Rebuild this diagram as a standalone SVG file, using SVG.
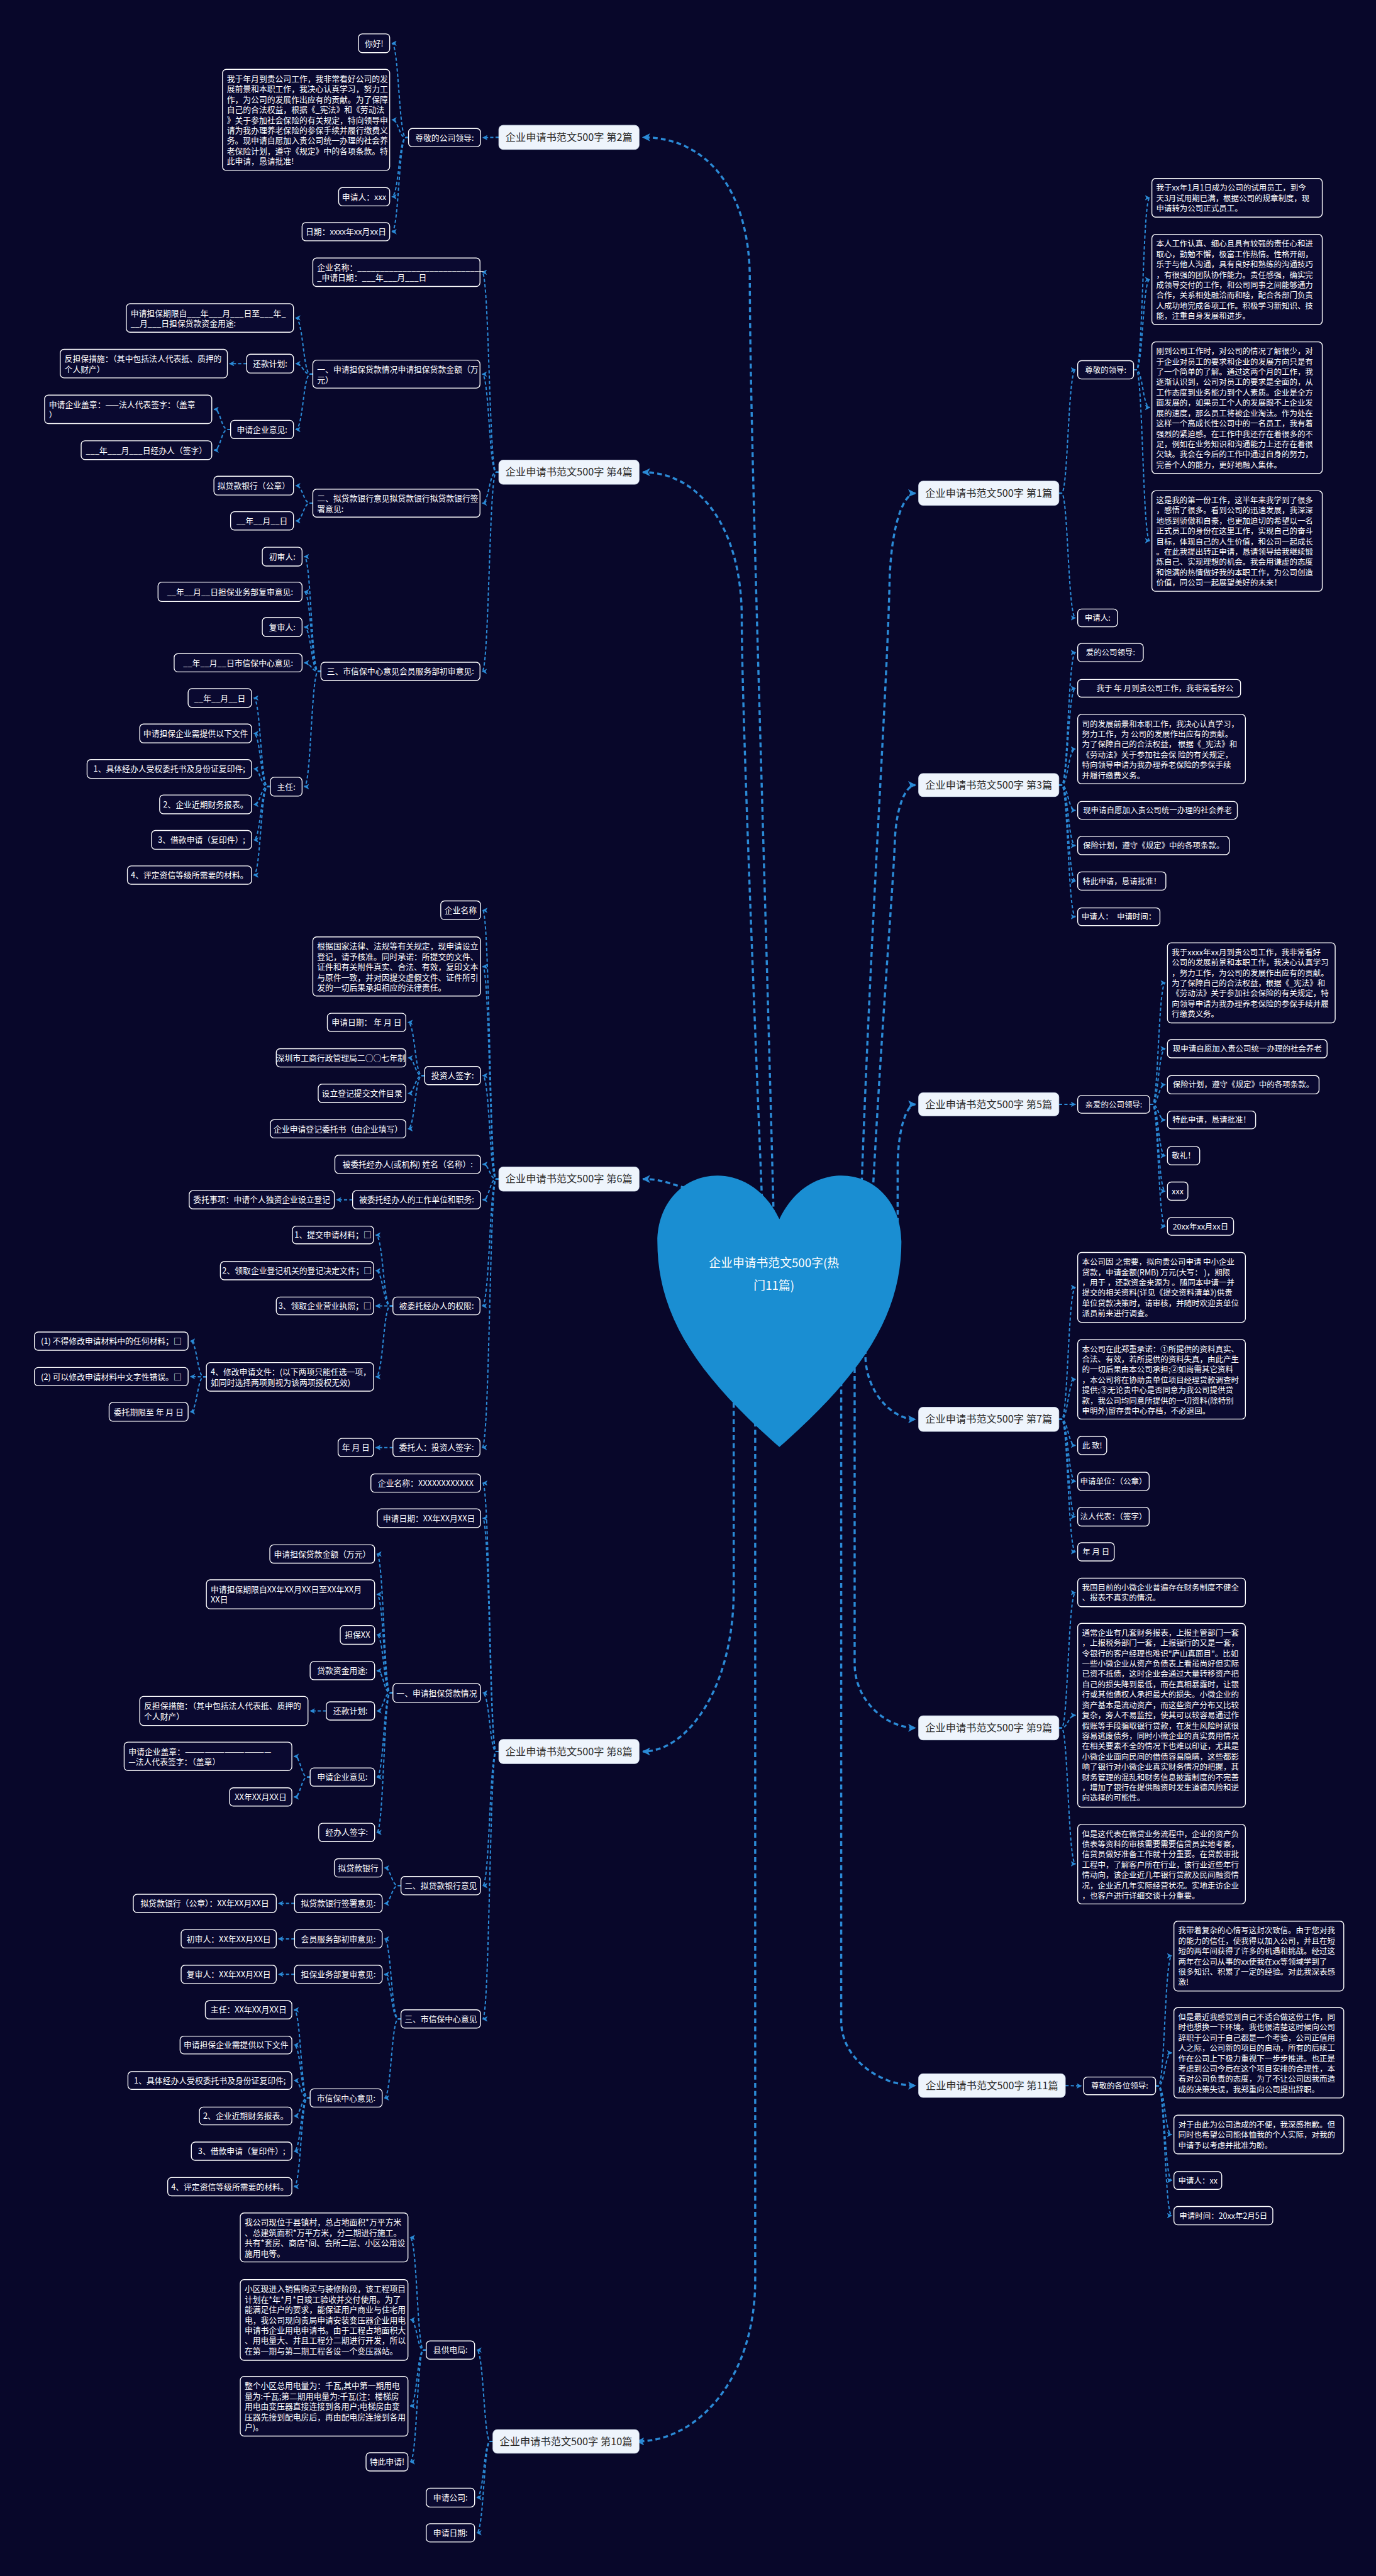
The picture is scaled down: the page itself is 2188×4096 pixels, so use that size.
<svg xmlns="http://www.w3.org/2000/svg" width="2188" height="4096" viewBox="0 0 2188 4096">
<defs>
<style>
.n{fill:#0a0930;stroke:#ffffff;stroke-width:1.6}
.b{fill:#eef4fc;stroke:#dbe6f4;stroke-width:1}
.t{font-family:"Noto Sans CJK SC","Noto Sans",sans-serif;font-size:15px;fill:#ffffff}
.r{font-family:"Noto Sans CJK SC","Noto Sans",sans-serif;font-size:14.6px;fill:#ffffff}
.m{text-anchor:middle}
.bt{font-family:"Noto Sans CJK SC","Noto Sans",sans-serif;font-size:19px;fill:#2b2b2b;text-anchor:middle}
.ht{font-family:"Noto Sans CJK SC","Noto Sans",sans-serif;font-size:22px;fill:#ffffff;text-anchor:middle}
.c{fill:none;stroke:#2b8ad6;stroke-width:2.4;stroke-dasharray:6 4;marker-end:url(#a)}
.k{fill:none;stroke:#2b8ad6;stroke-width:4;stroke-dasharray:9 6;marker-end:url(#am)}
</style>
<marker id="a" viewBox="0 0 10 10" refX="9" refY="5" markerWidth="10" markerHeight="10" markerUnits="userSpaceOnUse" orient="auto"><path d="M0,0L10,5L0,10L2.5,5z" fill="#2b8ad6"/></marker>
<marker id="am" viewBox="0 0 10 10" refX="9" refY="5" markerWidth="15" markerHeight="15" markerUnits="userSpaceOnUse" orient="auto"><path d="M0,0L10,5L0,10L2.5,5z" fill="#2b8ad6"/></marker>
</defs>
<rect x="0" y="0" width="2188" height="4096" fill="#08072a"/>
<g transform="scale(0.8547)">
<g id="connectors">
<!-- main -->
<path class="k" d="M1440,2290C1420,1500 1395,800 1395,520C1395,360 1320,255.5 1196,255.5"/>
<path class="k" d="M1420,2290C1400,1800 1380,1300 1380,1150C1380,980 1300,878.5 1196,878.5"/>
<path class="k" d="M1320,2215C1260,2215 1250,2193.5 1196,2193.5"/>
<path class="k" d="M1365,2520V2958.5C1365,3138.5 1280,3258.5 1196,3258.5"/>
<path class="k" d="M1405,2600V4242C1405,4422 1300,4542 1185,4542"/>
<path class="k" d="M1600,2290C1620,1700 1650,1300 1655,1080C1658,980 1680,917.5 1703,917.5"/>
<path class="k" d="M1620,2290C1640,1900 1662,1650 1665,1560C1668,1500 1685,1460.5 1703,1460.5"/>
<path class="k" d="M1670,2320V2174C1670,2102 1686,2054.5 1703,2054.5"/>
<path class="k" d="M1610,2450V2520C1610,2590 1660,2640.5 1703,2640.5"/>
<path class="k" d="M1590,2500V3094.5C1590,3166 1650,3214.5 1703,3214.5"/>
<path class="k" d="M1565,2540V3760C1565,3832 1640,3880 1703,3880"/>
<!-- 2 -->
<path class="c" d="M928,255.5H923C911,255.5 911,256 898,256"/>
<path class="c" d="M760,256H755C742,256 742,80.5 729,80.5"/>
<path class="c" d="M760,256H755C742,256 742,223 729,223"/>
<path class="c" d="M760,256H755C742,256 742,366 729,366"/>
<path class="c" d="M760,256H755C742,256 742,431 729,431"/>
<!-- 4 -->
<path class="c" d="M928,878.5H923C910,878.5 910,506.5 897,506.5"/>
<path class="c" d="M928,878.5H923C910,878.5 910,696 897,696"/>
<path class="c" d="M928,878.5H923C910,878.5 910,936 897,936"/>
<path class="c" d="M928,878.5H923C910,878.5 910,1249 897,1249"/>
<path class="c" d="M582,696H577C564,696 564,591.5 550,591.5"/>
<path class="c" d="M582,696H577C564,696 564,676.5 550,676.5"/>
<path class="c" d="M582,696H577C564,696 564,799 550,799"/>
<path class="c" d="M459,676.5H454C441,676.5 441,676.5 427,676.5"/>
<path class="c" d="M429,799H424C411,799 411,761.5 398,761.5"/>
<path class="c" d="M429,799H424C411,799 411,837.5 398,837.5"/>
<path class="c" d="M582,936H577C564,936 564,903.5 550,903.5"/>
<path class="c" d="M582,936H577C564,936 564,969 550,969"/>
<path class="c" d="M597,1249H592C579,1249 579,1035.5 566,1035.5"/>
<path class="c" d="M597,1249H592C579,1249 579,1101 566,1101"/>
<path class="c" d="M597,1249H592C579,1249 579,1166.5 566,1166.5"/>
<path class="c" d="M597,1249H592C579,1249 579,1233 566,1233"/>
<path class="c" d="M597,1249H592C579,1249 579,1463.5 566,1463.5"/>
<path class="c" d="M503,1463.5H498C485,1463.5 485,1298.5 472,1298.5"/>
<path class="c" d="M503,1463.5H498C485,1463.5 485,1364.5 472,1364.5"/>
<path class="c" d="M503,1463.5H498C485,1463.5 485,1430.5 472,1430.5"/>
<path class="c" d="M503,1463.5H498C485,1463.5 485,1496.5 472,1496.5"/>
<path class="c" d="M503,1463.5H498C485,1463.5 485,1562.5 472,1562.5"/>
<path class="c" d="M503,1463.5H498C485,1463.5 485,1628 472,1628"/>
<!-- 6 -->
<path class="c" d="M928,2193.5H923C911,2193.5 911,1693.5 898,1693.5"/>
<path class="c" d="M928,2193.5H923C911,2193.5 911,1798 898,1798"/>
<path class="c" d="M928,2193.5H923C911,2193.5 911,2001 898,2001"/>
<path class="c" d="M928,2193.5H923C911,2193.5 911,2166 898,2166"/>
<path class="c" d="M928,2193.5H923C911,2193.5 911,2232 898,2232"/>
<path class="c" d="M928,2193.5H923C911,2193.5 911,2429.5 897,2429.5"/>
<path class="c" d="M928,2193.5H923C911,2193.5 911,2693 897,2693"/>
<path class="c" d="M790,2001H785C772,2001 772,1902 759,1902"/>
<path class="c" d="M790,2001H785C772,2001 772,1968 759,1968"/>
<path class="c" d="M790,2001H785C772,2001 772,2034 759,2034"/>
<path class="c" d="M790,2001H785C772,2001 772,2100 759,2100"/>
<path class="c" d="M656,2232H651C639,2232 639,2232 626,2232"/>
<path class="c" d="M731,2429.5H726C713,2429.5 713,2297.5 699,2297.5"/>
<path class="c" d="M731,2429.5H726C713,2429.5 713,2364 699,2364"/>
<path class="c" d="M731,2429.5H726C713,2429.5 713,2429.5 699,2429.5"/>
<path class="c" d="M731,2429.5H726C713,2429.5 713,2561.5 699,2561.5"/>
<path class="c" d="M384,2561.5H379C367,2561.5 367,2495 354,2495"/>
<path class="c" d="M384,2561.5H379C367,2561.5 367,2561 354,2561"/>
<path class="c" d="M384,2561.5H379C367,2561.5 367,2626.5 354,2626.5"/>
<path class="c" d="M731,2693H726C713,2693 713,2693 699,2693"/>
<!-- 8 -->
<path class="c" d="M928,3258.5H923C911,3258.5 911,2759 898,2759"/>
<path class="c" d="M928,3258.5H923C911,3258.5 911,2824.5 898,2824.5"/>
<path class="c" d="M928,3258.5H923C911,3258.5 911,3149.5 898,3149.5"/>
<path class="c" d="M928,3258.5H923C911,3258.5 911,3508 898,3508"/>
<path class="c" d="M928,3258.5H923C911,3258.5 911,3756 898,3756"/>
<path class="c" d="M731,3149.5H726C714,3149.5 714,2891 701,2891"/>
<path class="c" d="M731,3149.5H726C714,3149.5 714,2966 701,2966"/>
<path class="c" d="M731,3149.5H726C714,3149.5 714,3041.5 701,3041.5"/>
<path class="c" d="M731,3149.5H726C714,3149.5 714,3108 701,3108"/>
<path class="c" d="M731,3149.5H726C714,3149.5 714,3183 701,3183"/>
<path class="c" d="M731,3149.5H726C714,3149.5 714,3306 701,3306"/>
<path class="c" d="M731,3149.5H726C714,3149.5 714,3409 701,3409"/>
<path class="c" d="M607,3183H602C590,3183 590,3183 577,3183"/>
<path class="c" d="M577,3306H572C560,3306 560,3267.5 547,3267.5"/>
<path class="c" d="M577,3306H572C560,3306 560,3343 547,3343"/>
<path class="c" d="M746,3508H741C728,3508 728,3475 715,3475"/>
<path class="c" d="M746,3508H741C728,3508 728,3541 715,3541"/>
<path class="c" d="M548,3541H543C531,3541 531,3541 518,3541"/>
<path class="c" d="M746,3756H741C728,3756 728,3607 715,3607"/>
<path class="c" d="M746,3756H741C728,3756 728,3673 715,3673"/>
<path class="c" d="M746,3756H741C728,3756 728,3903 715,3903"/>
<path class="c" d="M548,3607H543C531,3607 531,3607 518,3607"/>
<path class="c" d="M548,3673H543C531,3673 531,3673 518,3673"/>
<path class="c" d="M577,3903H572C560,3903 560,3739 547,3739"/>
<path class="c" d="M577,3903H572C560,3903 560,3804.5 547,3804.5"/>
<path class="c" d="M577,3903H572C560,3903 560,3870.5 547,3870.5"/>
<path class="c" d="M577,3903H572C560,3903 560,3936.5 547,3936.5"/>
<path class="c" d="M577,3903H572C560,3903 560,4002 547,4002"/>
<path class="c" d="M577,3903H572C560,3903 560,4068 547,4068"/>
<!-- 10 -->
<path class="c" d="M917,4542H912C900,4542 900,4372 887,4372"/>
<path class="c" d="M917,4542H912C900,4542 900,4646.5 887,4646.5"/>
<path class="c" d="M917,4542H912C900,4542 900,4712 887,4712"/>
<path class="c" d="M793,4372H788C776,4372 776,4162.5 763,4162.5"/>
<path class="c" d="M793,4372H788C776,4372 776,4315.5 763,4315.5"/>
<path class="c" d="M793,4372H788C776,4372 776,4476 763,4476"/>
<path class="c" d="M793,4372H788C776,4372 776,4580 763,4580"/>
<!-- 1 -->
<path class="c" d="M1970,917.5H1975C1987,917.5 1987,688 2001,688"/>
<path class="c" d="M1970,917.5H1975C1987,917.5 1987,1149.5 2001,1149.5"/>
<path class="c" d="M2109,688H2114C2126,688 2126,368 2139,368"/>
<path class="c" d="M2109,688H2114C2126,688 2126,520 2139,520"/>
<path class="c" d="M2109,688H2114C2126,688 2126,758 2139,758"/>
<path class="c" d="M2109,688H2114C2126,688 2126,1006 2139,1006"/>
<!-- 3 -->
<path class="c" d="M1970,1460.5H1975C1987,1460.5 1987,1214 2001,1214"/>
<path class="c" d="M1970,1460.5H1975C1987,1460.5 1987,1280.5 2001,1280.5"/>
<path class="c" d="M1970,1460.5H1975C1987,1460.5 1987,1393.5 2001,1393.5"/>
<path class="c" d="M1970,1460.5H1975C1987,1460.5 1987,1507.5 2001,1507.5"/>
<path class="c" d="M1970,1460.5H1975C1987,1460.5 1987,1573 2001,1573"/>
<path class="c" d="M1970,1460.5H1975C1987,1460.5 1987,1639 2001,1639"/>
<path class="c" d="M1970,1460.5H1975C1987,1460.5 1987,1705.5 2001,1705.5"/>
<!-- 5 -->
<path class="c" d="M1970,2054.5H1975C1987,2054.5 1987,2054.5 2001,2054.5"/>
<path class="c" d="M2139,2054.5H2144C2155,2054.5 2155,1828.5 2168,1828.5"/>
<path class="c" d="M2139,2054.5H2144C2155,2054.5 2155,1951 2168,1951"/>
<path class="c" d="M2139,2054.5H2144C2155,2054.5 2155,2018 2168,2018"/>
<path class="c" d="M2139,2054.5H2144C2155,2054.5 2155,2083.5 2168,2083.5"/>
<path class="c" d="M2139,2054.5H2144C2155,2054.5 2155,2150 2168,2150"/>
<path class="c" d="M2139,2054.5H2144C2155,2054.5 2155,2216 2168,2216"/>
<path class="c" d="M2139,2054.5H2144C2155,2054.5 2155,2281.5 2168,2281.5"/>
<!-- 7 -->
<path class="c" d="M1970,2640.5H1975C1987,2640.5 1987,2395 2001,2395"/>
<path class="c" d="M1970,2640.5H1975C1987,2640.5 1987,2566 2001,2566"/>
<path class="c" d="M1970,2640.5H1975C1987,2640.5 1987,2689 2001,2689"/>
<path class="c" d="M1970,2640.5H1975C1987,2640.5 1987,2756 2001,2756"/>
<path class="c" d="M1970,2640.5H1975C1987,2640.5 1987,2821.5 2001,2821.5"/>
<path class="c" d="M1970,2640.5H1975C1987,2640.5 1987,2887 2001,2887"/>
<!-- 9 -->
<path class="c" d="M1970,3214.5H1975C1987,3214.5 1987,2963 2001,2963"/>
<path class="c" d="M1970,3214.5H1975C1987,3214.5 1987,3191 2001,3191"/>
<path class="c" d="M1970,3214.5H1975C1987,3214.5 1987,3467.5 2001,3467.5"/>
<!-- 11 -->
<path class="c" d="M1982,3880H1987C1999,3880 1999,3880.5 2012,3880.5"/>
<path class="c" d="M2150,3880.5H2155C2167,3880.5 2167,3638.5 2180,3638.5"/>
<path class="c" d="M2150,3880.5H2155C2167,3880.5 2167,3819 2180,3819"/>
<path class="c" d="M2150,3880.5H2155C2167,3880.5 2167,3971 2180,3971"/>
<path class="c" d="M2150,3880.5H2155C2167,3880.5 2167,4056.5 2180,4056.5"/>
<path class="c" d="M2150,3880.5H2155C2167,3880.5 2167,4122 2180,4122"/>
</g>

<g id="root">
<path d="M1450,2268C1420,2205 1370,2187 1335,2187C1270,2187 1223,2240 1223,2310C1223,2450 1300,2560 1450,2692C1600,2560 1677,2450 1677,2310C1677,2240 1630,2187 1565,2187C1530,2187 1480,2205 1450,2268Z" fill="#1a8ed2"/>
<text class="ht" x="1440" y="2357">企业申请书范文500字(热</text>
<text class="ht" x="1440" y="2400">门11篇)</text>
</g>

<!-- ========== 第2篇 ========== -->
<g id="b2"><rect class="b" x="928" y="233" width="261" height="45" rx="8"/><text class="bt" x="1058.5" y="262.5">企业申请书范文500字 第2篇</text></g>
<g id="n2a"><rect class="n" x="760" y="239" width="134" height="34" rx="7"/><text class="t m" x="827" y="261.5">尊敬的公司领导:</text></g>
<g id="n2a1"><rect class="n" x="667" y="63" width="58" height="35" rx="7"/><text class="t m" x="696" y="86">你好!</text></g>
<g id="n2a2"><rect class="n" x="414" y="129" width="311" height="188" rx="7"/><text class="t" x="422" y="152"><tspan x="422">我于年月到贵公司工作，我非常看好公司的发</tspan><tspan x="422" dy="19.2">展前景和本职工作，我决心认真学习，努力工</tspan><tspan x="422" dy="19.2">作，为公司的发展作出应有的贡献。为了保障</tspan><tspan x="422" dy="19.2">自己的合法权益，根据《_宪法》和《劳动法</tspan><tspan x="422" dy="19.2">》关于参加社会保险的有关规定，特向领导申</tspan><tspan x="422" dy="19.2">请为我办理养老保险的参保手续并履行缴费义</tspan><tspan x="422" dy="19.2">务。现申请自愿加入贵公司统一办理的社会养</tspan><tspan x="422" dy="19.2">老保险计划，遵守《规定》中的各项条款。特</tspan><tspan x="422" dy="19.2">此申请，恳请批准!</tspan></text></g>
<g id="n2a3"><rect class="n" x="630" y="349" width="95" height="34" rx="7"/><text class="t m" x="677.5" y="371.5">申请人：xxx</text></g>
<g id="n2a4"><rect class="n" x="562" y="414" width="163" height="34" rx="7"/><text class="t m" x="643.5" y="436.5">日期：xxxx年xx月xx日</text></g>

<!-- ========== 第4篇 ========== -->
<g id="b4"><rect class="b" x="928" y="856" width="261" height="45" rx="8"/><text class="bt" x="1058.5" y="885">企业申请书范文500字 第4篇</text></g>
<g id="n4a"><rect class="n" x="582" y="480" width="311" height="53" rx="7"/><text class="t" x="590" y="503"><tspan x="590">企业名称：____________________________</tspan><tspan x="590" dy="19.2">_申请日期：___年___月___日</tspan></text></g>
<g id="n4b"><rect class="n" x="582" y="670" width="311" height="52" rx="7"/><text class="t" x="590" y="693"><tspan x="590">一、申请担保贷款情况申请担保贷款金额（万</tspan><tspan x="590" dy="19.2">元）</tspan></text></g>
<g id="n4b1"><rect class="n" x="235" y="565" width="311" height="53" rx="7"/><text class="t" x="243" y="588"><tspan x="243">申请担保期限自___年___月___日至___年_</tspan><tspan x="243" dy="19.2">__月___日担保贷款资金用途:</tspan></text></g>
<g id="n4b2"><rect class="n" x="459" y="659" width="87" height="35" rx="7"/><text class="t m" x="502.5" y="682">还款计划:</text></g>
<g id="n4b2a"><rect class="n" x="112" y="650" width="311" height="53" rx="7"/><text class="t" x="120" y="673"><tspan x="120">反担保措施：（其中包括法人代表抵、质押的</tspan><tspan x="120" dy="19.2">个人财产）</tspan></text></g>
<g id="n4b3"><rect class="n" x="429" y="782" width="117" height="34" rx="7"/><text class="t m" x="487.5" y="804.5">申请企业意见:</text></g>
<g id="n4b3a"><rect class="n" x="83" y="735" width="311" height="53" rx="7"/><text class="t" x="91" y="758"><tspan x="91">申请企业盖章：——法人代表签字：（盖章</tspan><tspan x="91" dy="19.2">）</tspan></text></g>
<g id="n4b3b"><rect class="n" x="151" y="820" width="243" height="35" rx="7"/><text class="t m" x="272.5" y="843">___年___月___日经办人（签字）</text></g>
<g id="n4c"><rect class="n" x="582" y="910" width="311" height="52" rx="7"/><text class="t" x="590" y="933"><tspan x="590">二、拟贷款银行意见拟贷款银行拟贷款银行签</tspan><tspan x="590" dy="19.2">署意见:</tspan></text></g>
<g id="n4c1"><rect class="n" x="398" y="886" width="148" height="35" rx="7"/><text class="t m" x="472" y="909">拟贷款银行（公章）</text></g>
<g id="n4c2"><rect class="n" x="429" y="952" width="117" height="34" rx="7"/><text class="t m" x="487.5" y="974.5">__年__月__日</text></g>
<g id="n4d"><rect class="n" x="597" y="1232" width="296" height="34" rx="7"/><text class="t m" x="745" y="1254.5">三、市信保中心意见会员服务部初审意见:</text></g>
<g id="n4d1"><rect class="n" x="488" y="1018" width="74" height="35" rx="7"/><text class="t m" x="525" y="1041">初审人:</text></g>
<g id="n4d2"><rect class="n" x="294" y="1083" width="268" height="36" rx="7"/><text class="t m" x="428" y="1106.5">__年__月__日担保业务部复审意见:</text></g>
<g id="n4d3"><rect class="n" x="488" y="1149" width="74" height="35" rx="7"/><text class="t m" x="525" y="1172">复审人:</text></g>
<g id="n4d4"><rect class="n" x="324" y="1216" width="238" height="34" rx="7"/><text class="t m" x="443" y="1238.5">__年__月__日市信保中心意见:</text></g>
<g id="n4d5"><rect class="n" x="503" y="1446" width="59" height="35" rx="7"/><text class="t m" x="532.5" y="1469">主任:</text></g>
<g id="n4d5a"><rect class="n" x="350" y="1281" width="118" height="35" rx="7"/><text class="t m" x="409" y="1304">__年__月__日</text></g>
<g id="n4d5b"><rect class="n" x="260" y="1347" width="208" height="35" rx="7"/><text class="t m" x="364" y="1370">申请担保企业需提供以下文件</text></g>
<g id="n4d5c"><rect class="n" x="162" y="1413" width="306" height="35" rx="7"/><text class="t m" x="315" y="1436">1、具体经办人受权委托书及身份证复印件;</text></g>
<g id="n4d5d"><rect class="n" x="297" y="1479" width="171" height="35" rx="7"/><text class="t m" x="382.5" y="1502">2、企业近期财务报表。</text></g>
<g id="n4d5e"><rect class="n" x="282" y="1545" width="186" height="35" rx="7"/><text class="t m" x="375" y="1568">3、借款申请（复印件）;</text></g>
<g id="n4d5f"><rect class="n" x="237" y="1611" width="231" height="34" rx="7"/><text class="t m" x="352.5" y="1633.5">4、评定资信等级所需要的材料。</text></g>

<!-- ========== 第6篇 ========== -->
<g id="b6"><rect class="b" x="928" y="2171" width="261" height="45" rx="8"/><text class="bt" x="1058.5" y="2200">企业申请书范文500字 第6篇</text></g>
<g id="n6a"><rect class="n" x="820" y="1676" width="74" height="35" rx="7"/><text class="t m" x="857" y="1699">企业名称</text></g>
<g id="n6b"><rect class="n" x="582" y="1743" width="312" height="110" rx="7"/><text class="t" x="590" y="1766"><tspan x="590">根据国家法律、法规等有关规定，现申请设立</tspan><tspan x="590" dy="19.2">登记，请予核准。同时承诺：所提交的文件、</tspan><tspan x="590" dy="19.2">证件和有关附件真实、合法、有效，复印文本</tspan><tspan x="590" dy="19.2">与原件一致，并对因提交虚假文件、证件所引</tspan><tspan x="590" dy="19.2">发的一切后果承担相应的法律责任。</tspan></text></g>
<g id="n6c"><rect class="n" x="790" y="1984" width="104" height="34" rx="7"/><text class="t m" x="842" y="2006.5">投资人签字:</text></g>
<g id="n6c1"><rect class="n" x="609" y="1885" width="146" height="34" rx="7"/><text class="t m" x="682" y="1907.5">申请日期： 年 月 日</text></g>
<g id="n6c2"><rect class="n" x="514" y="1951" width="241" height="34" rx="7"/><text class="t m" x="634.5" y="1973.5">深圳市工商行政管理局二○○七年制</text></g>
<g id="n6c3"><rect class="n" x="592" y="2017" width="163" height="34" rx="7"/><text class="t m" x="673.5" y="2039.5">设立登记提交文件目录</text></g>
<g id="n6c4"><rect class="n" x="503" y="2083" width="252" height="34" rx="7"/><text class="t m" x="629" y="2105.5">企业申请登记委托书（由企业填写）</text></g>
<g id="n6d"><rect class="n" x="623" y="2149" width="271" height="34" rx="7"/><text class="t m" x="758.5" y="2171.5">被委托经办人(或机构) 姓名（名称）:</text></g>
<g id="n6e"><rect class="n" x="656" y="2215" width="238" height="34" rx="7"/><text class="t m" x="775" y="2237.5">被委托经办人的工作单位和职务:</text></g>
<g id="n6e1"><rect class="n" x="352" y="2215" width="270" height="34" rx="7"/><text class="t m" x="487" y="2237.5">委托事项：申请个人独资企业设立登记</text></g>
<g id="n6f"><rect class="n" x="731" y="2413" width="162" height="33" rx="7"/><text class="t m" x="812" y="2435">被委托经办人的权限:</text></g>
<g id="n6f1"><rect class="n" x="544" y="2281" width="151" height="33" rx="7"/><text class="t m" x="619.5" y="2303">1、提交申请材料；□</text></g>
<g id="n6f2"><rect class="n" x="410" y="2347" width="285" height="34" rx="7"/><text class="t m" x="552.5" y="2369.5">2、领取企业登记机关的登记决定文件；□</text></g>
<g id="n6f3"><rect class="n" x="514" y="2413" width="181" height="33" rx="7"/><text class="t m" x="604.5" y="2435">3、领取企业营业执照；□</text></g>
<g id="n6f4"><rect class="n" x="384" y="2535" width="311" height="53" rx="7"/><text class="t" x="392" y="2558"><tspan x="392">4、修改申请文件：(以下两项只能任选一项，</tspan><tspan x="392" dy="19.2">如同时选择两项则视为该两项授权无效)</tspan></text></g>
<g id="n6f4a"><rect class="n" x="64" y="2478" width="286" height="34" rx="7"/><text class="t m" x="207" y="2500.5">(1) 不得修改申请材料中的任何材料；□</text></g>
<g id="n6f4b"><rect class="n" x="64" y="2544" width="286" height="34" rx="7"/><text class="t m" x="207" y="2566.5">(2) 可以修改申请材料中文字性错误。□</text></g>
<g id="n6f4c"><rect class="n" x="203" y="2609" width="147" height="35" rx="7"/><text class="t m" x="276.5" y="2632">委托期限至 年 月 日</text></g>
<g id="n6g"><rect class="n" x="731" y="2676" width="162" height="34" rx="7"/><text class="t m" x="812" y="2698.5">委托人：投资人签字:</text></g>
<g id="n6g1"><rect class="n" x="629" y="2676" width="66" height="34" rx="7"/><text class="t m" x="662" y="2698.5">年 月 日</text></g>

<!-- ========== 第8篇 ========== -->
<g id="b8"><rect class="b" x="928" y="3236" width="261" height="45" rx="8"/><text class="bt" x="1058.5" y="3265.5">企业申请书范文500字 第8篇</text></g>
<g id="n8a"><rect class="n" x="690" y="2742" width="204" height="34" rx="7"/><text class="t m" x="792" y="2764.5">企业名称：XXXXXXXXXXXX</text></g>
<g id="n8b"><rect class="n" x="702" y="2807" width="192" height="35" rx="7"/><text class="t m" x="798" y="2830">申请日期：XX年XX月XX日</text></g>
<g id="n8c"><rect class="n" x="731" y="3132" width="163" height="35" rx="7"/><text class="t m" x="812.5" y="3155">一、申请担保贷款情况</text></g>
<g id="n8c1"><rect class="n" x="502" y="2874" width="195" height="34" rx="7"/><text class="t m" x="599.5" y="2896.5">申请担保贷款金额（万元）</text></g>
<g id="n8c2"><rect class="n" x="384" y="2939" width="313" height="54" rx="7"/><text class="t" x="392" y="2962"><tspan x="392">申请担保期限自XX年XX月XX日至XX年XX月</tspan><tspan x="392" dy="19.2">XX日</tspan></text></g>
<g id="n8c3"><rect class="n" x="633" y="3024" width="64" height="35" rx="7"/><text class="t m" x="665" y="3047">担保XX</text></g>
<g id="n8c4"><rect class="n" x="577" y="3091" width="120" height="34" rx="7"/><text class="t m" x="637" y="3113.5">贷款资金用途:</text></g>
<g id="n8c5"><rect class="n" x="607" y="3166" width="90" height="34" rx="7"/><text class="t m" x="652" y="3188.5">还款计划:</text></g>
<g id="n8c5a"><rect class="n" x="260" y="3156" width="313" height="54" rx="7"/><text class="t" x="268" y="3179"><tspan x="268">反担保措施：（其中包括法人代表抵、质押的</tspan><tspan x="268" dy="19.2">个人财产）</tspan></text></g>
<g id="n8c6"><rect class="n" x="577" y="3289" width="120" height="34" rx="7"/><text class="t m" x="637" y="3311.5">申请企业意见:</text></g>
<g id="n8c6a"><rect class="n" x="231" y="3241" width="312" height="53" rx="7"/><text class="t" x="239" y="3264"><tspan x="239">申请企业盖章：—————————————</tspan><tspan x="239" dy="19.2">—法人代表签字：（盖章）</tspan></text></g>
<g id="n8c6b"><rect class="n" x="427" y="3326" width="116" height="34" rx="7"/><text class="t m" x="485" y="3348.5">XX年XX月XX日</text></g>
<g id="n8c7"><rect class="n" x="593" y="3392" width="104" height="34" rx="7"/><text class="t m" x="645" y="3414.5">经办人签字:</text></g>
<g id="n8d"><rect class="n" x="746" y="3491" width="148" height="34" rx="7"/><text class="t m" x="820" y="3513.5">二、拟贷款银行意见</text></g>
<g id="n8d1"><rect class="n" x="622" y="3458" width="89" height="34" rx="7"/><text class="t m" x="666.5" y="3480.5">拟贷款银行</text></g>
<g id="n8d2"><rect class="n" x="548" y="3524" width="163" height="34" rx="7"/><text class="t m" x="629.5" y="3546.5">拟贷款银行签署意见:</text></g>
<g id="n8d2a"><rect class="n" x="248" y="3524" width="266" height="34" rx="7"/><text class="t m" x="381" y="3546.5">拟贷款银行（公章）：XX年XX月XX日</text></g>
<g id="n8e"><rect class="n" x="746" y="3739" width="148" height="34" rx="7"/><text class="t m" x="820" y="3761.5">三、市信保中心意见</text></g>
<g id="n8e1"><rect class="n" x="548" y="3590" width="163" height="34" rx="7"/><text class="t m" x="629.5" y="3612.5">会员服务部初审意见:</text></g>
<g id="n8e1a"><rect class="n" x="337" y="3590" width="177" height="34" rx="7"/><text class="t m" x="425.5" y="3612.5">初审人：XX年XX月XX日</text></g>
<g id="n8e2"><rect class="n" x="548" y="3656" width="163" height="34" rx="7"/><text class="t m" x="629.5" y="3678.5">担保业务部复审意见:</text></g>
<g id="n8e2a"><rect class="n" x="337" y="3656" width="177" height="34" rx="7"/><text class="t m" x="425.5" y="3678.5">复审人：XX年XX月XX日</text></g>
<g id="n8e3"><rect class="n" x="577" y="3886" width="134" height="34" rx="7"/><text class="t m" x="644" y="3908.5">市信保中心意见:</text></g>
<g id="n8e3a"><rect class="n" x="382" y="3722" width="161" height="34" rx="7"/><text class="t m" x="462.5" y="3744.5">主任：XX年XX月XX日</text></g>
<g id="n8e3b"><rect class="n" x="335" y="3788" width="208" height="33" rx="7"/><text class="t m" x="439" y="3810">申请担保企业需提供以下文件</text></g>
<g id="n8e3c"><rect class="n" x="238" y="3854" width="305" height="33" rx="7"/><text class="t m" x="390.5" y="3876">1、具体经办人受权委托书及身份证复印件;</text></g>
<g id="n8e3d"><rect class="n" x="371" y="3920" width="172" height="33" rx="7"/><text class="t m" x="457" y="3942">2、企业近期财务报表。</text></g>
<g id="n8e3e"><rect class="n" x="356" y="3985" width="187" height="34" rx="7"/><text class="t m" x="449.5" y="4007.5">3、借款申请（复印件）;</text></g>
<g id="n8e3f"><rect class="n" x="312" y="4051" width="231" height="34" rx="7"/><text class="t m" x="427.5" y="4073.5">4、评定资信等级所需要的材料。</text></g>

<!-- ========== 第10篇 ========== -->
<g id="b10"><rect class="b" x="917" y="4520" width="272" height="44" rx="8"/><text class="bt" x="1053" y="4548.5">企业申请书范文500字 第10篇</text></g>
<g id="n10a"><rect class="n" x="793" y="4355" width="90" height="34" rx="7"/><text class="t m" x="838" y="4377.5">县供电局:</text></g>
<g id="n10a1"><rect class="n" x="447" y="4117" width="312" height="91" rx="7"/><text class="t" x="455" y="4140"><tspan x="455">我公司现位于县镇村，总占地面积*万平方米</tspan><tspan x="455" dy="19.2">、总建筑面积*万平方米，分二期进行施工。</tspan><tspan x="455" dy="19.2">共有*套房、商店*间、会所二层、小区公用设</tspan><tspan x="455" dy="19.2">施用电等。</tspan></text></g>
<g id="n10a2"><rect class="n" x="447" y="4241" width="312" height="150" rx="7"/><text class="t" x="455" y="4264"><tspan x="455">小区现进入销售购买与装修阶段，该工程项目</tspan><tspan x="455" dy="19.2">计划在*年*月*日竣工验收并交付使用。为了</tspan><tspan x="455" dy="19.2">能满足住户的要求，能保证用户商业与住宅用</tspan><tspan x="455" dy="19.2">电，我公司现向贵局申请安装变压器企业用电</tspan><tspan x="455" dy="19.2">申请书企业用电申请书。由于工程占地面积大</tspan><tspan x="455" dy="19.2">、用电量大、并且工程分二期进行开发，所以</tspan><tspan x="455" dy="19.2">在第一期与第二期工程各设一个变压器站。</tspan></text></g>
<g id="n10a3"><rect class="n" x="447" y="4421" width="312" height="111" rx="7"/><text class="t" x="455" y="4444"><tspan x="455">整个小区总用电量为：千瓦,其中第一期用电</tspan><tspan x="455" dy="19.2">量为:千瓦;第二期用电量为:千瓦(注：楼梯房</tspan><tspan x="455" dy="19.2">用电由变压器直接连接到各用户;电梯房由变</tspan><tspan x="455" dy="19.2">压器先接到配电房后，再由配电房连接到各用</tspan><tspan x="455" dy="19.2">户)。</tspan></text></g>
<g id="n10a4"><rect class="n" x="681" y="4563" width="78" height="34" rx="7"/><text class="t m" x="720" y="4585.5">特此申请!</text></g>
<g id="n10b"><rect class="n" x="793" y="4629" width="90" height="35" rx="7"/><text class="t m" x="838" y="4652">申请公司:</text></g>
<g id="n10c"><rect class="n" x="793" y="4695" width="90" height="34" rx="7"/><text class="t m" x="838" y="4717.5">申请日期:</text></g>

<!-- ========== 第1篇 ========== -->
<g id="b1"><rect class="b" x="1709" y="895" width="261" height="45" rx="8"/><text class="bt" x="1839.5" y="924">企业申请书范文500字 第1篇</text></g>
<g id="n1a"><rect class="n" x="2005" y="671" width="104" height="34" rx="7"/><text class="r m" x="2057" y="693.5">尊敬的领导:</text></g>
<g id="n1a1"><rect class="n" x="2143" y="332" width="317" height="72" rx="7"/><text class="r" x="2151" y="355"><tspan x="2151">我于xx年1月1日成为公司的试用员工，到今</tspan><tspan x="2151" dy="19.2">天3月试用期已满，根据公司的规章制度，现</tspan><tspan x="2151" dy="19.2">申请转为公司正式员工。</tspan></text></g>
<g id="n1a2"><rect class="n" x="2143" y="436" width="317" height="168" rx="7"/><text class="r" x="2151" y="459"><tspan x="2151">本人工作认真、细心且具有较强的责任心和进</tspan><tspan x="2151" dy="19.2">取心，勤勉不懈，极富工作热情。性格开朗，</tspan><tspan x="2151" dy="19.2">乐于与他人沟通，具有良好和熟练的沟通技巧</tspan><tspan x="2151" dy="19.2">，有很强的团队协作能力。责任感强，确实完</tspan><tspan x="2151" dy="19.2">成领导交付的工作，和公司同事之间能够通力</tspan><tspan x="2151" dy="19.2">合作，关系相处融洽而和睦，配合各部门负责</tspan><tspan x="2151" dy="19.2">人成功地完成各项工作。积极学习新知识、技</tspan><tspan x="2151" dy="19.2">能，注重自身发展和进步。</tspan></text></g>
<g id="n1a3"><rect class="n" x="2143" y="636" width="317" height="245" rx="7"/><text class="r" x="2151" y="659"><tspan x="2151">刚到公司工作时，对公司的情况了解很少，对</tspan><tspan x="2151" dy="19.2">于企业对员工的要求和企业的发展方向只是有</tspan><tspan x="2151" dy="19.2">了一个简单的了解。通过这两个月的工作，我</tspan><tspan x="2151" dy="19.2">逐渐认识到，公司对员工的要求是全面的，从</tspan><tspan x="2151" dy="19.2">工作态度到业务能力到个人素质。企业是全方</tspan><tspan x="2151" dy="19.2">面发展的，如果员工个人的发展跟不上企业发</tspan><tspan x="2151" dy="19.2">展的速度，那么员工将被企业淘汰。作为处在</tspan><tspan x="2151" dy="19.2">这样一个高成长性公司中的一名员工，我有着</tspan><tspan x="2151" dy="19.2">强烈的紧迫感。在工作中我还存在着很多的不</tspan><tspan x="2151" dy="19.2">足，例如在业务知识和沟通能力上还存在着很</tspan><tspan x="2151" dy="19.2">欠缺。我会在今后的工作中通过自身的努力，</tspan><tspan x="2151" dy="19.2">完善个人的能力，更好地融入集体。</tspan></text></g>
<g id="n1a4"><rect class="n" x="2143" y="913" width="317" height="187" rx="7"/><text class="r" x="2151" y="936"><tspan x="2151">这是我的第一份工作，这半年来我学到了很多</tspan><tspan x="2151" dy="19.2">，感悟了很多。看到公司的迅速发展，我深深</tspan><tspan x="2151" dy="19.2">地感到骄傲和自豪，也更加迫切的希望以一名</tspan><tspan x="2151" dy="19.2">正式员工的身份在这里工作，实现自己的奋斗</tspan><tspan x="2151" dy="19.2">目标，体现自己的人生价值，和公司一起成长</tspan><tspan x="2151" dy="19.2">。在此我提出转正申请，恳请领导给我继续锻</tspan><tspan x="2151" dy="19.2">炼自己、实现理想的机会。我会用谦虚的态度</tspan><tspan x="2151" dy="19.2">和饱满的热情做好我的本职工作，为公司创造</tspan><tspan x="2151" dy="19.2">价值，同公司一起展望美好的未来！</tspan></text></g>
<g id="n1b"><rect class="n" x="2005" y="1133" width="74" height="33" rx="7"/><text class="r m" x="2042" y="1155">申请人:</text></g>

<!-- ========== 第3篇 ========== -->
<g id="b3"><rect class="b" x="1709" y="1439" width="261" height="43" rx="8"/><text class="bt" x="1839.5" y="1467">企业申请书范文500字 第3篇</text></g>
<g id="n3a"><rect class="n" x="2005" y="1197" width="122" height="34" rx="7"/><text class="r m" x="2066" y="1219.5">爱的公司领导:</text></g>
<g id="n3b"><rect class="n" x="2005" y="1264" width="303" height="33" rx="7"/><text class="r" x="2040" y="1286">我于 年 月到贵公司工作，我非常看好公</text></g>
<g id="n3c"><rect class="n" x="2005" y="1329" width="312" height="129" rx="7"/><text class="r" x="2013" y="1352"><tspan x="2013">司的发展前景和本职工作，我决心认真学习，</tspan><tspan x="2013" dy="19.2">努力工作，为 公司的发展作出应有的贡献。</tspan><tspan x="2013" dy="19.2">为了保障自己的合法权益， 根据《_宪法》和</tspan><tspan x="2013" dy="19.2">《劳动法》关于参加社会保 险的有关规定，</tspan><tspan x="2013" dy="19.2">特向领导申请为我办理养老保险的参保手续</tspan><tspan x="2013" dy="19.2">并履行缴费义务。</tspan></text></g>
<g id="n3d"><rect class="n" x="2005" y="1491" width="297" height="33" rx="7"/><text class="r m" x="2153.5" y="1513">现申请自愿加入贵公司统一办理的社会养老</text></g>
<g id="n3e"><rect class="n" x="2005" y="1556" width="282" height="34" rx="7"/><text class="r m" x="2146" y="1578.5">保险计划，遵守《规定》中的各项条款。</text></g>
<g id="n3f"><rect class="n" x="2005" y="1622" width="164" height="34" rx="7"/><text class="r m" x="2087" y="1644.5">特此申请，恳请批准！</text></g>
<g id="n3g"><rect class="n" x="2005" y="1689" width="153" height="33" rx="7"/><text class="r m" x="2081.5" y="1711">申请人：　申请时间：</text></g>

<!-- ========== 第5篇 ========== -->
<g id="b5"><rect class="b" x="1709" y="2033" width="261" height="43" rx="8"/><text class="bt" x="1839.5" y="2061">企业申请书范文500字 第5篇</text></g>
<g id="n5a"><rect class="n" x="2005" y="2038" width="134" height="33" rx="7"/><text class="r m" x="2072" y="2060">亲爱的公司领导:</text></g>
<g id="n5a1"><rect class="n" x="2172" y="1754" width="312" height="149" rx="7"/><text class="r" x="2180" y="1777"><tspan x="2180">我于xxxx年xx月到贵公司工作，我非常看好</tspan><tspan x="2180" dy="19.2">公司的发展前景和本职工作，我决心认真学习</tspan><tspan x="2180" dy="19.2">，努力工作，为公司的发展作出应有的贡献。</tspan><tspan x="2180" dy="19.2">为了保障自己的合法权益，根据《_宪法》和</tspan><tspan x="2180" dy="19.2">《劳动法》关于参加社会保险的有关规定，特</tspan><tspan x="2180" dy="19.2">向领导申请为我办理养老保险的参保手续并履</tspan><tspan x="2180" dy="19.2">行缴费义务。</tspan></text></g>
<g id="n5a2"><rect class="n" x="2172" y="1934" width="297" height="34" rx="7"/><text class="r m" x="2320.5" y="1956.5">现申请自愿加入贵公司统一办理的社会养老</text></g>
<g id="n5a3"><rect class="n" x="2172" y="2001" width="282" height="34" rx="7"/><text class="r m" x="2313" y="2023.5">保险计划，遵守《规定》中的各项条款。</text></g>
<g id="n5a4"><rect class="n" x="2172" y="2067" width="164" height="33" rx="7"/><text class="r m" x="2254" y="2089">特此申请，恳请批准！</text></g>
<g id="n5a5"><rect class="n" x="2172" y="2133" width="60" height="34" rx="7"/><text class="r m" x="2202" y="2155.5">敬礼！</text></g>
<g id="n5a6"><rect class="n" x="2172" y="2199" width="38" height="34" rx="7"/><text class="r m" x="2191" y="2221.5">xxx</text></g>
<g id="n5a7"><rect class="n" x="2172" y="2265" width="123" height="33" rx="7"/><text class="r m" x="2233.5" y="2287">20xx年xx月xx日</text></g>

<!-- ========== 第7篇 ========== -->
<g id="b7"><rect class="b" x="1709" y="2618" width="261" height="45" rx="8"/><text class="bt" x="1839.5" y="2647">企业申请书范文500字 第7篇</text></g>
<g id="n7a"><rect class="n" x="2005" y="2330" width="312" height="130" rx="7"/><text class="r" x="2013" y="2353"><tspan x="2013">本公司因 之需要，拟向贵公司申请 中小企业</tspan><tspan x="2013" dy="19.2">贷款，申请金额(RMB) 万元(大写：  )，期限</tspan><tspan x="2013" dy="19.2">，用于 ，还款资金来源为 。随同本申请一并</tspan><tspan x="2013" dy="19.2">提交的相关资料(详见《提交资料清单》)供贵</tspan><tspan x="2013" dy="19.2">单位贷款决策时，请审核，并随时欢迎贵单位</tspan><tspan x="2013" dy="19.2">派员前来进行调查。</tspan></text></g>
<g id="n7b"><rect class="n" x="2005" y="2492" width="312" height="148" rx="7"/><text class="r" x="2013" y="2515"><tspan x="2013">本公司在此郑重承诺：①所提供的资料真实、</tspan><tspan x="2013" dy="19.2">合法、有效，若所提供的资料失真，由此产生</tspan><tspan x="2013" dy="19.2">的一切后果由本公司承担;②如尚需其它资料</tspan><tspan x="2013" dy="19.2">，本公司将在协助贵单位项目经理贷款调查时</tspan><tspan x="2013" dy="19.2">提供;③无论贵中心是否同意为我公司提供贷</tspan><tspan x="2013" dy="19.2">款，我公司均同意所提供的一切资料(除特别</tspan><tspan x="2013" dy="19.2">申明外)留存贵中心存档，不必退回。</tspan></text></g>
<g id="n7c"><rect class="n" x="2005" y="2672" width="54" height="34" rx="7"/><text class="r m" x="2032" y="2694.5">此 致!</text></g>
<g id="n7d"><rect class="n" x="2005" y="2739" width="133" height="34" rx="7"/><text class="r m" x="2071.5" y="2761.5">申请单位：（公章）</text></g>
<g id="n7e"><rect class="n" x="2005" y="2804" width="133" height="35" rx="7"/><text class="r m" x="2071.5" y="2827">法人代表：（签字）</text></g>
<g id="n7f"><rect class="n" x="2005" y="2870" width="68" height="34" rx="7"/><text class="r m" x="2039" y="2892.5">年 月 日</text></g>

<!-- ========== 第9篇 ========== -->
<g id="b9"><rect class="b" x="1709" y="3192" width="261" height="45" rx="8"/><text class="bt" x="1839.5" y="3221">企业申请书范文500字 第9篇</text></g>
<g id="n9a"><rect class="n" x="2005" y="2936" width="312" height="53" rx="7"/><text class="r" x="2013" y="2959"><tspan x="2013">我国目前的小微企业普遍存在财务制度不健全</tspan><tspan x="2013" dy="19.2">、报表不真实的情况。</tspan></text></g>
<g id="n9b"><rect class="n" x="2005" y="3020" width="312" height="342" rx="7"/><text class="r" x="2013" y="3043"><tspan x="2013">通常企业有几套财务报表，上报主管部门一套</tspan><tspan x="2013" dy="19.2">，上报税务部门一套，上报银行的又是一套，</tspan><tspan x="2013" dy="19.2">令银行的客户经理也难识"庐山真面目"。比如</tspan><tspan x="2013" dy="19.2">一些小微企业从资产负债表上看虽尚好但实际</tspan><tspan x="2013" dy="19.2">已资不抵债，这时企业会通过大量转移资产把</tspan><tspan x="2013" dy="19.2">自己的损失降到最低，而在真相暴露时，让银</tspan><tspan x="2013" dy="19.2">行或其他债权人承担最大的损失。小微企业的</tspan><tspan x="2013" dy="19.2">资产基本是流动资产，而这些资产分布又比较</tspan><tspan x="2013" dy="19.2">复杂，旁人不易监控，使其可以较容易通过作</tspan><tspan x="2013" dy="19.2">假账等手段骗取银行贷款，在发生风险时就很</tspan><tspan x="2013" dy="19.2">容易逃废债务，同时小微企业的真实费用情况</tspan><tspan x="2013" dy="19.2">在相关要素不全的情况下也难以印证，尤其是</tspan><tspan x="2013" dy="19.2">小微企业面向民间的借债容易隐瞒，这些都影</tspan><tspan x="2013" dy="19.2">响了银行对小微企业真实财务情况的把握，其</tspan><tspan x="2013" dy="19.2">财务管理的混乱和财务信息披露制度的不完善</tspan><tspan x="2013" dy="19.2">，增加了银行在提供融资时发生道德风险和逆</tspan><tspan x="2013" dy="19.2">向选择的可能性。</tspan></text></g>
<g id="n9c"><rect class="n" x="2005" y="3394" width="312" height="148" rx="7"/><text class="r" x="2013" y="3417"><tspan x="2013">但是这代表在微贷业务流程中，企业的资产负</tspan><tspan x="2013" dy="19.2">债表等资料的审核需要需要信贷员实地考察，</tspan><tspan x="2013" dy="19.2">信贷员做好准备工作就十分重要。在贷款审批</tspan><tspan x="2013" dy="19.2">工程中，了解客户所在行业，该行业近些年行</tspan><tspan x="2013" dy="19.2">情动向，该企业近几年银行贷款及民间融资情</tspan><tspan x="2013" dy="19.2">况，企业近几年实际经营状况。实地走访企业</tspan><tspan x="2013" dy="19.2">，也客户进行详细交谈十分重要。</tspan></text></g>

<!-- ========== 第11篇 ========== -->
<g id="b11"><rect class="b" x="1709" y="3858" width="273" height="44" rx="8"/><text class="bt" x="1845.5" y="3886.5">企业申请书范文500字 第11篇</text></g>
<g id="n11a"><rect class="n" x="2016" y="3864" width="134" height="33" rx="7"/><text class="r m" x="2083" y="3886">尊敬的各位领导:</text></g>
<g id="n11a1"><rect class="n" x="2184" y="3574" width="316" height="130" rx="7"/><text class="r" x="2192" y="3597"><tspan x="2192">我带着复杂的心情写这封次致信。由于您对我</tspan><tspan x="2192" dy="19.2">的能力的信任，使我得以加入公司，并且在短</tspan><tspan x="2192" dy="19.2">短的两年间获得了许多的机遇和挑战。经过这</tspan><tspan x="2192" dy="19.2">两年在公司从事的xx使我在xx等领域学到了</tspan><tspan x="2192" dy="19.2">很多知识、积累了一定的经验。对此我深表感</tspan><tspan x="2192" dy="19.2">激!</tspan></text></g>
<g id="n11a2"><rect class="n" x="2184" y="3735" width="316" height="168" rx="7"/><text class="r" x="2192" y="3758"><tspan x="2192">但是最近我感觉到自己不适合做这份工作，同</tspan><tspan x="2192" dy="19.2">时也想换一下环境。我也很清楚这时候向公司</tspan><tspan x="2192" dy="19.2">辞职于公司于自己都是一个考验，公司正值用</tspan><tspan x="2192" dy="19.2">人之际，公司新的项目的启动，所有的后续工</tspan><tspan x="2192" dy="19.2">作在公司上下极力重视下一步步推进。也正是</tspan><tspan x="2192" dy="19.2">考虑到公司今后在这个项目安排的合理性，本</tspan><tspan x="2192" dy="19.2">着对公司负责的态度，为了不让公司因我而造</tspan><tspan x="2192" dy="19.2">成的决策失误，我郑重向公司提出辞职。</tspan></text></g>
<g id="n11a3"><rect class="n" x="2184" y="3935" width="316" height="72" rx="7"/><text class="r" x="2192" y="3958"><tspan x="2192">对于由此为公司造成的不便，我深感抱歉。但</tspan><tspan x="2192" dy="19.2">同时也希望公司能体恤我的个人实际，对我的</tspan><tspan x="2192" dy="19.2">申请予以考虑并批准为盼。</tspan></text></g>
<g id="n11a4"><rect class="n" x="2184" y="4040" width="89" height="33" rx="7"/><text class="r m" x="2228.5" y="4062">申请人：xx</text></g>
<g id="n11a5"><rect class="n" x="2184" y="4105" width="184" height="34" rx="7"/><text class="r m" x="2276" y="4127.5">申请时间：20xx年2月5日</text></g>
</g>
</svg>
